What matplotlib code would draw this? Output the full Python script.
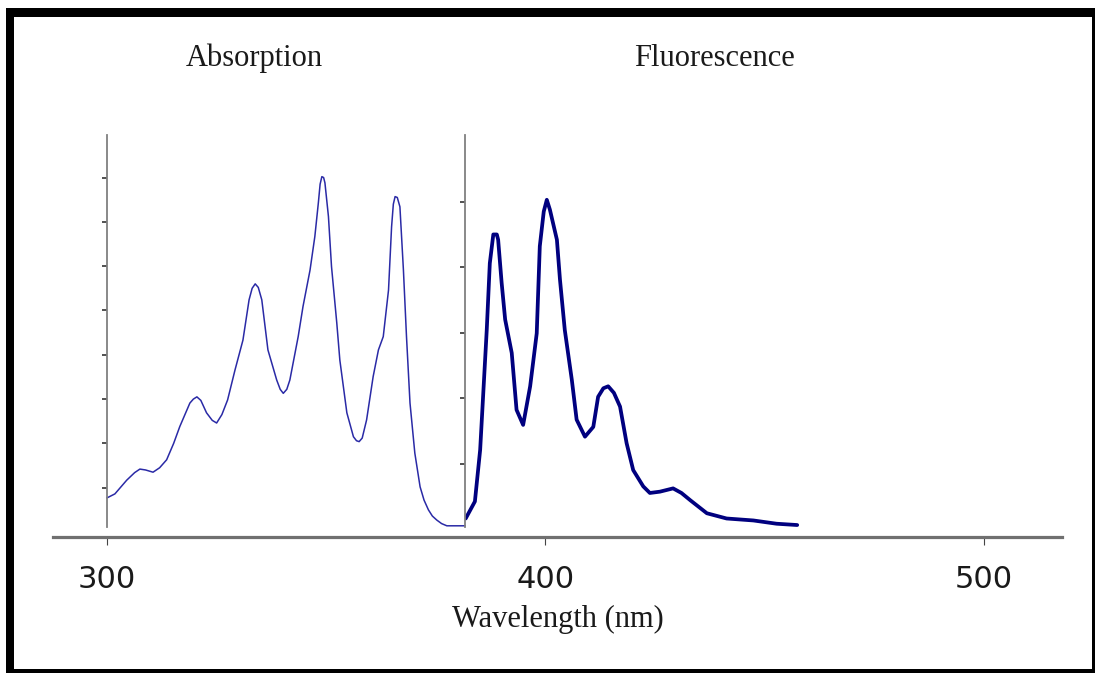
import matplotlib
matplotlib.use("Agg")
import matplotlib.pyplot as plt
from matplotlib.patches import Rectangle

# ---------------- data ----------------
abs_wl = [300.0, 301.8, 304.5, 306.3, 307.5, 308.8, 310.5, 312.0, 313.6, 315.2,
          316.6, 318.9, 319.7, 320.5, 321.4, 322.7, 324.0, 325.0, 326.2, 327.5,
          329.2, 331.0, 332.4, 333.1, 333.8, 334.5, 335.3, 336.7, 338.7, 339.5,
          340.2, 341.0, 341.7, 343.6, 344.7, 346.3, 347.4, 348.2, 348.6, 349.0,
          349.4, 349.7, 350.5, 351.2, 352.4, 353.1, 354.7, 356.2, 356.9, 357.5,
          358.2, 359.2, 360.7, 361.9, 363.0, 364.2, 364.9, 365.3, 365.7, 366.2,
          366.8, 367.6, 368.3, 369.1, 370.2, 371.4, 372.3, 373.3, 374.2, 375.2,
          376.3, 377.5, 381.6]
abs_val = [0.077, 0.086, 0.117, 0.134, 0.142, 0.140, 0.135, 0.145, 0.163, 0.200,
           0.238, 0.291, 0.300, 0.305, 0.297, 0.269, 0.252, 0.246, 0.265, 0.298,
           0.366, 0.433, 0.524, 0.550, 0.560, 0.552, 0.524, 0.411, 0.343, 0.322,
           0.313, 0.322, 0.343, 0.441, 0.509, 0.591, 0.667, 0.743, 0.785, 0.802,
           0.800, 0.788, 0.712, 0.599, 0.472, 0.388, 0.269, 0.215, 0.206, 0.204,
           0.212, 0.253, 0.351, 0.411, 0.441, 0.546, 0.689, 0.740, 0.757, 0.755,
           0.734, 0.591, 0.441, 0.291, 0.178, 0.102, 0.072, 0.050, 0.036, 0.027,
           0.019, 0.014, 0.014]

fl_wl = [381.8, 383.9, 385.1, 386.6, 387.3, 388.1, 388.9, 389.2, 390.0, 390.8,
         392.3, 393.4, 394.9, 396.5, 398.0, 398.7, 399.6, 400.3, 401.0, 402.6,
         403.3, 404.4, 406.0, 407.1, 409.0, 410.9, 412.0, 413.2, 414.3, 415.6,
         417.0, 418.5, 420.0, 422.3, 423.8, 426.1, 429.1, 431.0, 433.0, 436.8,
         441.3, 447.4, 452.7, 457.4]
fl_val = [0.16, 0.42, 1.21, 3.04, 4.06, 4.50, 4.50, 4.42, 3.76, 3.20,
          2.69, 1.82, 1.59, 2.18, 2.99, 4.32, 4.85, 5.03, 4.88, 4.42,
          3.81, 3.04, 2.28, 1.67, 1.41, 1.56, 2.02, 2.15, 2.18, 2.08,
          1.87, 1.31, 0.90, 0.65, 0.55, 0.57, 0.62, 0.55, 0.44, 0.24,
          0.16, 0.13, 0.08, 0.06]

x_ticks = [300, 400, 500]
abs_ticks = [0.1, 0.2, 0.3, 0.4, 0.5, 0.6, 0.7, 0.8]
fl_ticks = [1, 2, 3, 4, 5]

panel_titles = ["Absorption", "Fluorescence"]
x_label = "Wavelength (nm)"

# ---------------- layout helpers (pixels) ----------------
W, H = 1095, 673
def fx(px):
    return px / W
def fy(py):
    return 1 - py / H

fig = plt.figure(figsize=(W / 100, H / 100), dpi=100)
fig.patch.set_facecolor("white")

XMIN, XMAX = 287.69, 517.79
serif = ["Liberation Serif", "DejaVu Serif"]

# main axes carrying the wavelength axis
ax = fig.add_axes([fx(53), fy(537), fx(1062) - fx(53), fy(135) - fy(537)])
ax.set_xlim(XMIN, XMAX)
ax.set_ylim(0, 1)
for s in ["top", "left", "right"]:
    ax.spines[s].set_visible(False)
ax.spines["bottom"].set_color("#707070")
ax.spines["bottom"].set_linewidth(2.3)
ax.set_yticks([])
ax.set_xticks(x_ticks)
ax.set_xticklabels([str(t) for t in x_ticks])
ax.tick_params(axis="x", direction="out", length=6, width=0.8, color="#444444",
               pad=14, labelsize=22, labelcolor="#1a1a1a")
ax.patch.set_alpha(0)
ax.set_xlabel(x_label, fontfamily=serif, fontsize=22, color="#1a1a1a", labelpad=8)

# absorption panel
ax_a = fig.add_axes([fx(107), fy(527), fx(465) - fx(107), fy(135) - fy(527)])
ax_a.set_xlim(300, 300 + (465 - 107) / 4.385)
ax_a.set_ylim(0.0113, 0.896)
ax_a.plot(abs_wl, abs_val, color="#2a2aa6", lw=1.1, clip_on=False,
          solid_joinstyle="round")
for s in ["top", "right", "bottom"]:
    ax_a.spines[s].set_visible(False)
ax_a.spines["left"].set_color("#808080")
ax_a.spines["left"].set_linewidth(1.3)
ax_a.set_xticks([])
ax_a.set_yticks(abs_ticks)
ax_a.set_yticklabels([])
ax_a.tick_params(axis="y", direction="out", length=3.5, width=1.1, color="#222222")
ax_a.patch.set_alpha(0)

# fluorescence panel
ax_f = fig.add_axes([fx(465), fy(527), fx(1062) - fx(465), fy(135) - fy(527)])
ax_f.set_xlim(300 + (465 - 107) / 4.385, XMAX)
ax_f.set_ylim(0.03, 6.02)
ax_f.plot(fl_wl, fl_val, color="#00007f", lw=2.7, solid_joinstyle="round",
          solid_capstyle="round")
for s in ["top", "right", "bottom"]:
    ax_f.spines[s].set_visible(False)
ax_f.spines["left"].set_color("#808080")
ax_f.spines["left"].set_linewidth(1.3)
ax_f.set_xticks([])
ax_f.set_yticks(fl_ticks)
ax_f.set_yticklabels([])
ax_f.tick_params(axis="y", direction="out", length=3.5, width=1.1, color="#222222")
ax_f.patch.set_alpha(0)

# panel titles
fig.text(fx(254), fy(58), panel_titles[0], ha="center", va="center",
         fontfamily=serif, fontsize=22, color="#1a1a1a")
fig.text(fx(714), fy(58), panel_titles[1], ha="center", va="center",
         fontfamily=serif, fontsize=22, color="#1a1a1a")

# black frame (thick top/left, thin right/bottom)
frame = [
    (6, 8, 8, 665),      # left
    (6, 8, 1089, 9),     # top
    (1092, 8, 3, 665),   # right
    (6, 669, 1089, 4),   # bottom
]
for x0, y0, w, h in frame:
    fig.add_artist(Rectangle((fx(x0), fy(y0 + h)), w / W, h / H,
                             transform=fig.transFigure, facecolor="black",
                             edgecolor="none", zorder=10))

fig.savefig("out.png", dpi=100, facecolor="white")
